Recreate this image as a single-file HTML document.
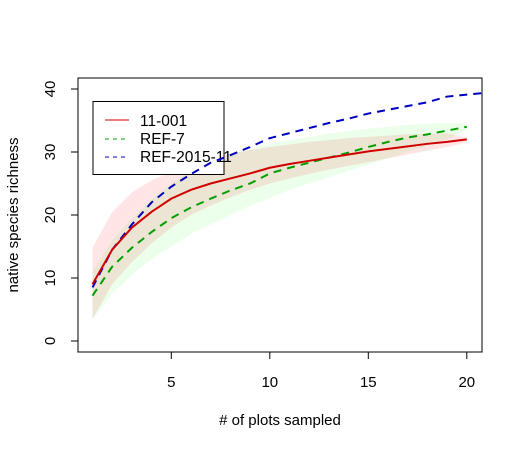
<!DOCTYPE html>
<html><head><meta charset="utf-8"><style>
body{margin:0;background:#fff;}
svg text{font-family:"Liberation Sans",Arial,sans-serif;fill:#000;}
</style></head><body>
<svg id="chart" width="525" height="450" xmlns="http://www.w3.org/2000/svg">
<defs><clipPath id="plotclip"><rect x="78" y="78" width="404" height="274"/></clipPath></defs>
<g id="bands" clip-path="url(#plotclip)"></g>
<g>
<rect x="93" y="101.5" width="131" height="73" fill="#fff" stroke="#000"/>
<line x1="105" y1="120" x2="129" y2="120" stroke="#d00000" stroke-width="1"/>
<text x="140" y="126" font-size="15.5">11-001</text>
<line x1="105" y1="139" x2="129" y2="139" stroke="#00a000" stroke-width="1" stroke-dasharray="4,4"/>
<text x="140" y="144" font-size="15.5">REF-7</text>
<line x1="105" y1="157" x2="129" y2="157" stroke="#0000c0" stroke-width="1" stroke-dasharray="4,4"/>
<text x="140" y="162" font-size="15.5">REF-2015-11</text>
</g>
<g id="lines" clip-path="url(#plotclip)"></g>
<rect x="78" y="78" width="404" height="274" fill="none" stroke="#000" stroke-width="1"/>
<g id="xaxis"></g><g id="yaxis"></g>
<text x="280" y="425" font-size="15" text-anchor="middle"># of plots sampled</text>
<text transform="translate(18,215) rotate(-90)" font-size="15" text-anchor="middle">native species richness</text>
</svg>
<script>
const xs = [1,2,3,4,5,6,7,8,9,10,11,12,13,14,15,16,17,18,19,20];
const redMean = [9,14.5,18,20.5,22.6,24,25,25.8,26.6,27.5,28.1,28.6,29.1,29.6,30.1,30.5,30.9,31.3,31.6,32];
const redUpper = [14.8,20.5,23.6,25.5,26.8,28,29,29.8,30.3,30.8,31.2,31.6,31.9,32.2,32.4,32.6,32.8,32.9,33,32.3];
const redLower = [3.5,9,12.5,15.5,18,20,21.5,22.8,24,25,25.8,26.5,27.2,27.8,28.4,29,29.6,30.2,30.8,31.5];
const greenMean = [7.2,11.8,14.8,17.3,19.5,21.2,22.6,23.9,25,26.6,27.5,28.3,29.1,29.9,30.8,31.6,32.3,32.8,33.4,34];
const greenUpper = [11,16,19.5,22.5,25,27,28.5,29.7,30.5,31.3,31.9,32.4,32.9,33.3,33.7,34,34.3,34.5,34.6,34.5];
const greenLower = [3.5,7.5,10.5,13,15,17,18.5,20,21.5,22.7,24,25,26,27,28,29,30,31,32,33.5];
const blueX = [1,2,3,4,5,6,7,8,9,10,11,12,13,14,15,16,17,18,19,20,21];
const blueMean = [8.5,14.5,18.5,22,24.5,26.5,28.3,29.5,30.8,32.2,33,33.8,34.6,35.3,36.1,36.7,37.3,37.9,38.8,39.1,39.4];
const xTicks = [5,10,15,20];
const yTicks = [0,10,20,30,40];
const NS="http://www.w3.org/2000/svg";
function sx(v){return 171.3+(v-5)*19.7;}
function sy(v){return 341-v*6.3;}
function mk(tag,attrs,parent){const e=document.createElementNS(NS,tag);for(const k in attrs)e.setAttribute(k,attrs[k]);parent.appendChild(e);return e;}
const bands=document.getElementById('bands'), lines=document.getElementById('lines');
function band(up,lo,fill,name){
  let d='M'+xs.map((x,i)=>sx(x)+','+sy(up[i])).join('L');
  d+='L'+xs.map((x,i)=>[sx(x),sy(lo[i])]).reverse().map(p=>p.join(',')).join('L')+'Z';
  const p=mk('path',{d:d,fill:fill},bands);
  
  
}
band(greenUpper,greenLower,'rgba(0,255,0,0.08)','ref-7-band');
band(redUpper,redLower,'rgba(255,0,0,0.1)','11-001-band');
function line(xv,yv,color,dash,name){
  const p=mk('polyline',{points:xv.map((x,i)=>sx(x)+','+sy(yv[i])).join(' '),fill:'none',stroke:color,'stroke-width':2},lines);
  if(dash)p.setAttribute('stroke-dasharray',dash);
  
  
}
line(xs,greenMean,'#00a000','8,6','ref-7-line');
line(blueX,blueMean,'#0000c0','8,6','ref-2015-11-line');
line(xs,redMean,'#d00000',null,'11-001-line');
const xa=document.getElementById('xaxis'), ya=document.getElementById('yaxis');
xTicks.forEach(t=>{
  const l=mk('line',{x1:sx(t),y1:352,x2:sx(t),y2:359,stroke:'#000'},xa);
  
  
  const tx=mk('text',{x:sx(t),y:387,'font-size':15,'text-anchor':'middle'},xa);
  tx.textContent=t;
  
  
});
yTicks.forEach(t=>{
  const l=mk('line',{x1:71,y1:sy(t),x2:78,y2:sy(t),stroke:'#000'},ya);
  
  
  const tx=mk('text',{transform:'translate(55,'+sy(t)+') rotate(-90)','font-size':15,'text-anchor':'middle'},ya);
  tx.textContent=t;
  
  
});
</script>
</body></html>
